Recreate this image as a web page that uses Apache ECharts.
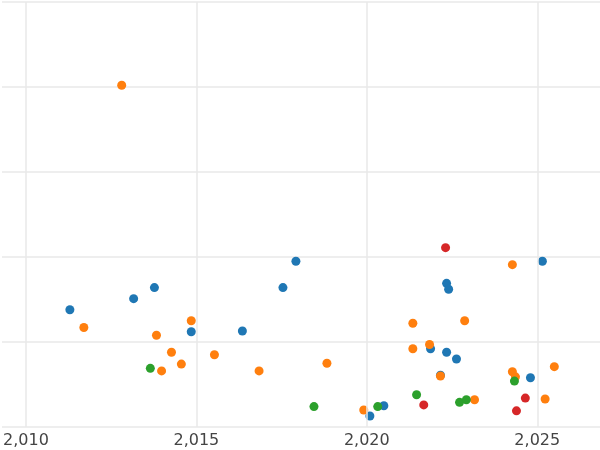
<!DOCTYPE html>
<html>
<head>
<meta charset="utf-8">
<script src="https://cdn.jsdelivr.net/npm/echarts@6/dist/echarts.min.js"></script>
<style>html,body{margin:0;padding:0;background:#fff}#c{width:600px;height:450px}</style>
</head>
<body>
<div id="c"></div>
<script>
// scatter points per colour group: [year, value]
const blue = [[2011.29,1.38],[2013.16,1.51],[2013.77,1.64],[2014.85,1.12],[2016.35,1.13],[2017.54,1.64],[2017.92,1.95],[2020.09,0.13],[2020.50,0.25],[2021.87,0.92],[2022.16,0.61],[2022.34,1.69],[2022.40,1.62],[2022.34,0.88],[2022.63,0.80],[2024.80,0.58],[2025.15,1.95]]
const orange = [[2011.70,1.17],[2012.81,4.02],[2013.83,1.08],[2013.98,0.66],[2014.27,0.88],[2014.56,0.74],[2014.85,1.25],[2015.53,0.85],[2016.84,0.66],[2018.83,0.75],[2019.91,0.20],[2021.35,1.22],[2021.35,0.92],[2021.84,0.97],[2022.16,0.60],[2022.87,1.25],[2023.16,0.32],[2024.27,1.91],[2024.27,0.65],[2024.36,0.59],[2025.23,0.33],[2025.50,0.71]]
const green = [[2013.65,0.69],[2018.45,0.24],[2020.32,0.24],[2021.46,0.38],[2022.72,0.29],[2022.92,0.32],[2024.33,0.54]]
const red = [[2022.31,2.11],[2021.67,0.26],[2024.65,0.34],[2024.39,0.19]]
const xTicks = [2010, 2015, 2020, 2025]

const chart = echarts.init(document.getElementById('c'))

const mk = (data, color, extra) => Object.assign({
  type: 'scatter', data, symbolSize: 9,
  itemStyle: { color, opacity: 1 }
}, extra || {})

chart.setOption({
  animation: false,
  grid: { left: 0, right: 0, top: 2, bottom: 23 },
  xAxis: {
    type: 'value', min: 2009.3, max: 2026.84,
    axisLine: { show: false }, axisTick: { show: false },
    splitLine: { show: false },
    axisLabel: { customValues: xTicks, color: '#444', fontSize: 16, fontFamily: 'DejaVu Sans', margin: 6 }
  },
  yAxis: {
    type: 'value', min: 0, max: 5, interval: 1,
    axisLine: { show: false }, axisTick: { show: false },
    axisLabel: { show: false },
    splitLine: { lineStyle: { color: '#e8e8e8', width: 1.5 } }
  },
  series: [
    mk(blue, '#1f77b4', {
      markLine: {
        silent: true, symbol: 'none', label: { show: false },
        lineStyle: { color: '#e8e8e8', width: 1.5, type: 'solid' },
        data: xTicks.map(v => ({ xAxis: v }))
      }
    }),
    mk(orange, '#ff7f0e'),
    mk(green, '#2ca02c'),
    mk(red, '#d62728')
  ]
})
</script>
</body>
</html>
